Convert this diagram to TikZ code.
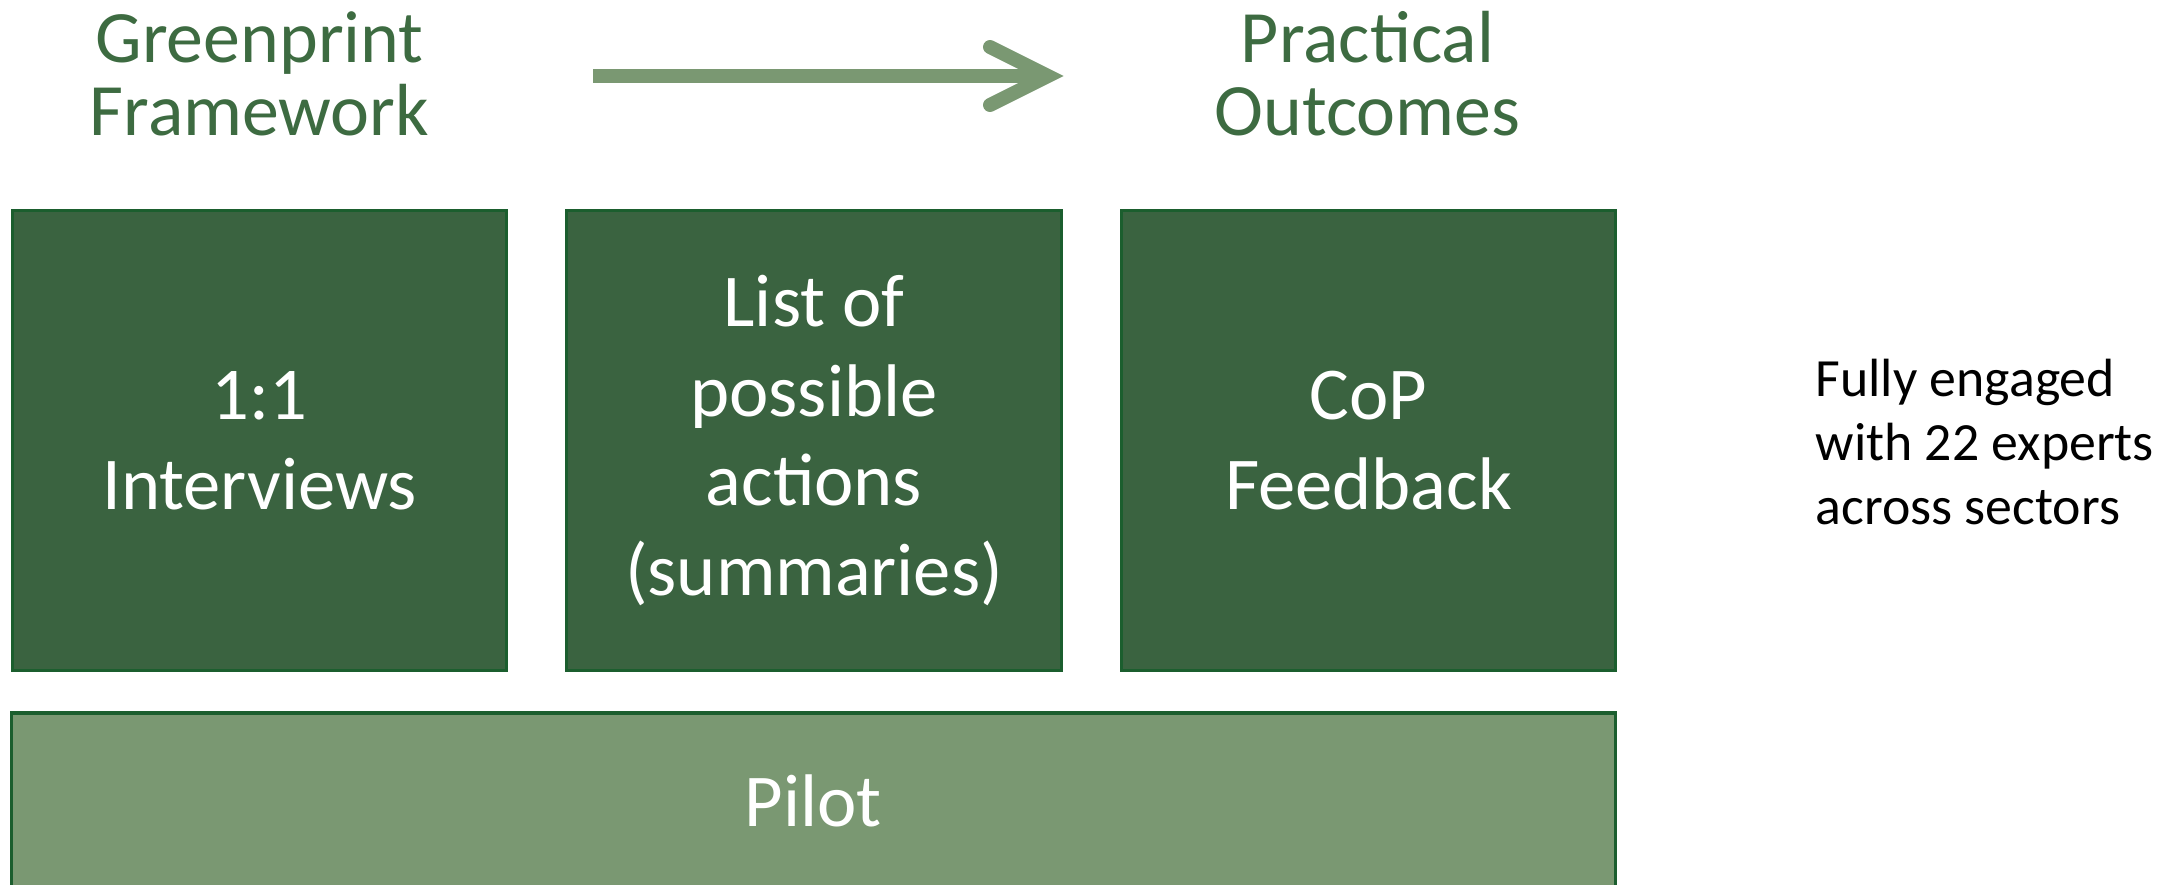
\documentclass[tikz,border=0pt]{standalone}
\usepackage{fontspec}
\setmainfont{Carlito}
\usetikzlibrary{positioning}

\definecolor{boxgreen}{HTML}{3A6340}
\definecolor{edgegreen}{HTML}{1B5E2E}
\definecolor{palegreen}{HTML}{7A9872}
\definecolor{titlegreen}{HTML}{3D6B41}

\begin{document}
\begin{tikzpicture}[x=0.01cm,y=-0.01cm,
    stage/.style={draw=edgegreen, line width=0.9pt, fill=boxgreen, text=white,
      minimum width=4.94cm, minimum height=4.60cm, inner sep=0pt, align=center,
      font=\fontsize{21.2}{25.5}\selectfont},
    heading/.style={text=titlegreen, align=center, font=\fontsize{21}{20.8}\selectfont},
    note/.style={anchor=west, align=left, inner sep=0pt, font=\fontsize{15.3}{18.2}\selectfont},
    node distance=0.57cm]
    \useasboundingbox (0,0) rectangle (2166,885);

    % the three stages
    \node[stage] (interviews) at (259.5,440.5) {1:1\\Interviews};
    \node[stage] (actions) [right=of interviews] {List of\\possible\\actions\\(summaries)};
    \node[stage] (feedback) [right=of actions] {CoP\\Feedback};

    % pilot bar underneath
    \node[stage, fill=palegreen, minimum width=16.03cm, minimum height=1.76cm]
        (pilot) at (813.5,801) {Pilot};

    % headings and arrow
    \node[heading] (framework) at (259.5,74) {Greenprint\\Framework};
    \node[heading] (outcomes) at (1367.5,74) {Practical\\Outcomes};
    \coordinate (tail) at (593,76);
    \coordinate (tip) at (1048,76);
    \draw[palegreen, line width=0.14cm] (tail) -- ([xshift=-0.1cm]tip);
    \draw[palegreen, line width=0.14cm, line cap=round, line join=miter]
        ([shift={(-58,-29)}]tip) -- (tip) -- ([shift={(-58,29)}]tip);

    \node[note] (experts) at (1815,442) {Fully engaged\\with 22 experts\\across sectors};
\end{tikzpicture}
\end{document}
